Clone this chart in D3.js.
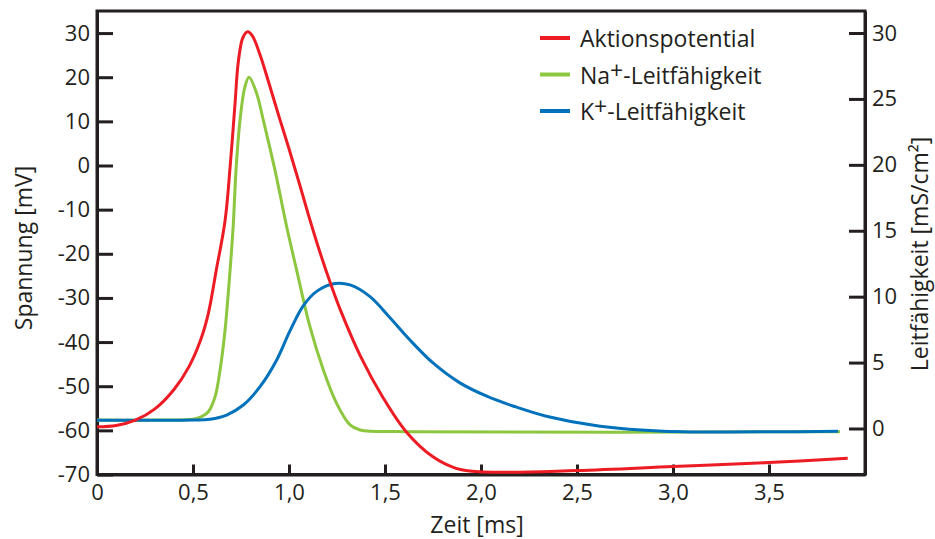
<!DOCTYPE html>
<html>
<head>
  <meta charset="utf-8">
  <style>
    body {
      margin: 0;
      background: #fff;
    }
    text {
      font-family: "Open Sans", sans-serif;
      fill: #231f20;
    }
    .axis path, .axis line {
      stroke: #231f20;
      stroke-width: 3px;
    }
    .frame {
      fill: none;
      stroke: #231f20;
      stroke-width: 3px;
    }
    .curve {
      fill: none;
      stroke-width: 3px;
    }
  </style>
</head>
<body>
  <script src="https://d3js.org/d3.v7.min.js"></script>
  <script>
    // Aktionspotential (Zeit in ms, Spannung in mV)
    var tAP = [0, 0.1, 0.2, 0.3, 0.4, 0.48, 0.54, 0.58, 0.62, 0.667, 0.693, 0.719, 0.736, 0.76, 0.785, 0.81, 0.85, 0.90, 0.95, 1.0, 1.05, 1.10, 1.16, 1.22, 1.27, 1.37, 1.49, 1.61, 1.75, 1.87, 1.99, 2.5, 3.0, 3.5, 3.91];
    var vAP = [-59.2, -58.9, -57.7, -55.2, -50.8, -45.5, -39.5, -33.5, -24.0, -12.5, -0.5, 14.1, 23.5, 29.0, 30.3, 29.3, 25.0, 18.0, 10.8, 3.8, -3.5, -11.0, -19.5, -27.2, -33.0, -43.0, -52.6, -60.3, -66.0, -68.6, -69.4, -69.1, -68.2, -67.3, -66.3];

    // Na+-Leitfähigkeit (mS/cm²)
    var tNa = [0, 0.30, 0.50, 0.545, 0.58, 0.615, 0.641, 0.667, 0.693, 0.71, 0.724, 0.745, 0.77, 0.792, 0.832, 0.866, 0.927, 0.988, 1.04, 1.109, 1.179, 1.248, 1.318, 1.37, 1.63, 3.87];
    var gNa = [0.64, 0.64, 0.70, 0.9, 1.27, 2.41, 4.44, 7.47, 12.0, 15.5, 19.6, 23.4, 25.9, 26.65, 25.4, 23.4, 19.6, 15.3, 12.0, 7.72, 4.44, 1.91, 0.27, -0.11, -0.24, -0.24];

    // K+-Leitfähigkeit (mS/cm²)
    var tK = [0, 0.5, 0.589, 0.675, 0.762, 0.849, 0.936, 1.005, 1.074, 1.144, 1.24, 1.318, 1.422, 1.526, 1.63, 1.75, 1.89, 2.03, 2.17, 2.34, 2.62, 2.95, 3.86];
    var gK = [0.63, 0.64, 0.70, 1.02, 1.78, 3.17, 5.2, 7.4, 9.3, 10.4, 11.0, 10.89, 10.0, 8.4, 6.71, 4.97, 3.46, 2.45, 1.69, 0.93, 0.17, -0.2, -0.2];

    var xTicks = [0, 0.5, 1.0, 1.5, 2.0, 2.5, 3.0, 3.5];
    var leftTicks = [-70, -60, -50, -40, -30, -20, -10, 0, 10, 20, 30];
    var rightTicks = [0, 5, 10, 15, 20, 25, 30];

    var legendNames = ["Aktionspotential", "Na+-Leitfähigkeit", "K+-Leitfähigkeit"];
    var colors = ["#ed1c24", "#8dc63f", "#0072bc"];

    var width = 935, height = 539;
    var plotLeft = 97, plotRight = 865, plotTop = 11, plotBottom = 474.5;

    var svg = d3.select("body").append("svg")
        .attr("width", width)
        .attr("height", height);

    var x = d3.scaleLinear().domain([0, 4]).range([plotLeft, plotRight]);
    var yL = d3.scaleLinear().domain([-70, 35]).range([plotBottom, plotTop]);
    var yR = d3.scaleLinear().domain([-3.49, 31.67]).range([plotBottom, plotTop]);

    var comma = function(d) { return d === 0 ? "0" : d3.format(".1f")(d).replace(".", ","); };

    svg.append("g")
        .attr("class", "axis")
        .attr("transform", "translate(0," + plotBottom + ")")
        .call(d3.axisBottom(x).tickValues(xTicks).tickSize(-10).tickPadding(10).tickSizeOuter(0).tickFormat(comma));

    svg.append("g")
        .attr("class", "axis")
        .attr("transform", "translate(" + plotLeft + ",0)")
        .call(d3.axisLeft(yL).tickValues(leftTicks).tickSize(-16).tickPadding(7).tickSizeOuter(0).tickFormat(String));

    svg.append("g")
        .attr("class", "axis")
        .attr("transform", "translate(" + plotRight + ",0)")
        .call(d3.axisRight(yR).tickValues(rightTicks).tickSize(-16).tickPadding(7).tickSizeOuter(0).tickFormat(String));

    svg.selectAll(".axis text")
        .style("font-size", "22px")
        .style("font-family", "'Open Sans', sans-serif")
        .attr("fill", "#231f20");

    svg.append("rect")
        .attr("class", "frame")
        .attr("x", plotLeft)
        .attr("y", plotTop)
        .attr("width", plotRight - plotLeft)
        .attr("height", plotBottom - plotTop);

    var smooth = d3.curveCatmullRom.alpha(0.5);
    var lineL = d3.line().curve(smooth)
        .x(function(d) { return x(d[0]); })
        .y(function(d) { return yL(d[1]); });
    var lineR = d3.line().curve(smooth)
        .x(function(d) { return x(d[0]); })
        .y(function(d) { return yR(d[1]); });

    svg.append("path").attr("class", "curve")
        .attr("stroke", colors[1])
        .attr("d", lineR(d3.zip(tNa, gNa)));
    svg.append("path").attr("class", "curve")
        .attr("stroke", colors[2])
        .attr("d", lineR(d3.zip(tK, gK)));
    svg.append("path").attr("class", "curve")
        .attr("stroke", colors[0])
        .attr("d", lineL(d3.zip(tAP, vAP)));

    // legend
    var legend = svg.append("g").attr("transform", "translate(540,47)");
    legendNames.forEach(function(name, i) {
      var g = legend.append("g").attr("transform", "translate(0," + (i * 36.5) + ")");
      g.append("line")
          .attr("x1", 0).attr("x2", 30)
          .attr("y1", -9).attr("y2", -9)
          .attr("stroke", colors[i])
          .attr("stroke-width", 4);
      var t = g.append("text").attr("x", 40).style("font-size", "23px");
      var parts = name.split("+");
      if (parts.length > 1) {
        t.append("tspan").text(parts[0]);
        t.append("tspan").attr("dy", -5).text("+");
        t.append("tspan").attr("dy", 5).text(parts[1]);
      } else {
        t.text(name);
      }
    });

    svg.append("text")
        .attr("x", 477)
        .attr("y", 533)
        .attr("text-anchor", "middle")
        .style("font-size", "23px")
        .text("Zeit [ms]");

    svg.append("text")
        .attr("transform", "translate(32,248) rotate(-90)")
        .attr("text-anchor", "middle")
        .style("font-size", "23px")
        .text("Spannung [mV]");

    svg.append("text")
        .attr("transform", "translate(928,254) rotate(-90)")
        .attr("text-anchor", "middle")
        .style("font-size", "23px")
        .text("Leitfähigkeit [mS/cm²]");
  </script>
</body>
</html>
